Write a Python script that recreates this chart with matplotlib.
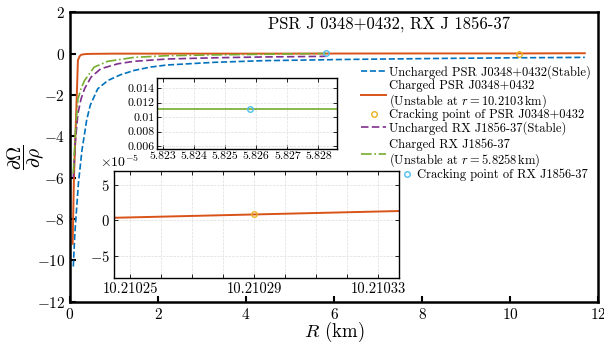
import matplotlib
matplotlib.use('Agg')
import matplotlib.pyplot as plt

plt.rcParams['font.family'] = 'serif'
plt.rcParams['font.serif'] = ['cmr10']
plt.rcParams['mathtext.fontset'] = 'cm'
plt.rcParams['axes.formatter.use_mathtext'] = True
plt.rcParams['axes.unicode_minus'] = True

# colours (MATLAB palette)
c_blue, c_orange, c_yellow = '#0072BD', '#D95319', '#EDB120'
c_purple, c_green, c_cyan = '#7E2F8E', '#77AC30', '#4DBEEE'

# main curves
r_psr_unch = [0.075, 0.11, 0.19, 0.27, 0.38, 0.46, 0.63, 0.86, 1.15, 1.46, 1.83, 2.2, 3.28, 4.4, 6.3, 8.5, 10.2, 11.7]
v_psr_unch = [-10.3, -8.7, -6.3, -4.7, -3.2, -2.5, -1.7, -1.3, -1.02, -0.81, -0.65, -0.55, -0.42, -0.34, -0.28, -0.23, -0.2, -0.18]

r_psr_ch = [0.06, 0.09, 0.15, 0.18, 0.22, 0.26, 0.35, 0.5, 1.0, 2.0, 4.0, 6.0, 8.0, 10.21029, 11.7]
v_psr_ch = [-9.2, -6.0, -2.3, -0.32, -0.12, -0.05, -0.02, -0.01, 0.0, 0.0, 0.0, 0.005, 0.01, 0.01, 0.02]

r_rx_unch = [0.075, 0.12, 0.18, 0.25, 0.33, 0.48, 0.7, 1.09, 1.46, 2.2, 3.3, 4.4, 5.83]
v_rx_unch = [-6.0, -4.3, -2.9, -2.2, -1.7, -1.13, -0.73, -0.49, -0.37, -0.26, -0.2, -0.16, -0.13]

r_rx_ch = [0.075, 0.12, 0.18, 0.25, 0.33, 0.55, 0.86, 1.46, 2.2, 3.3, 4.4, 5.8258]
v_rx_ch = [-5.8, -3.9, -2.2, -1.7, -1.3, -0.65, -0.37, -0.18, -0.1, -0.06, -0.03, 0.011]

# cracking points
crack_psr = (10.21029, 0.008e-3)
crack_rx = (5.8258, 0.0111)

# inset 1 (RX J1856-37 zoom)
in1_r = [5.8228, 5.8286]
in1_v = [0.0111, 0.0111]
in1_xticks = [5.823, 5.824, 5.825, 5.826, 5.827, 5.828]
in1_xlabels = ['5.823', '5.824', '5.825', '5.826', '5.827', '5.828']
in1_yticks = [0.006, 0.008, 0.010, 0.012, 0.014]
in1_ylabels = ['0.006', '0.008', '0.01', '0.012', '0.014']

# inset 2 (PSR J0348+0432 zoom)
in2_r = [10.2102448, 10.2103367]
in2_v = [0.32e-5, 1.27e-5]
in2_crack_v = 0.8e-5
in2_xticks = [10.21025, 10.21026, 10.21027, 10.21028, 10.21029, 10.21030, 10.21031, 10.21032, 10.21033]
in2_xlabels = ['10.21025', '', '', '', '10.21029', '', '', '', '10.21033']
in2_yticks = [-5e-5, 0, 5e-5]

legend_labels = ['Uncharged PSR J0348+0432(Stable)',
                 'Charged PSR J0348+0432\n(Unstable at $r=10.2103\\,$km)',
                 'Cracking point of PSR J0348+0432',
                 'Uncharged RX J1856-37(Stable)',
                 'Charged RX J1856-37\n(Unstable at $r=5.8258\\,$km)',
                 'Cracking point of RX J1856-37']

W, H = 604, 342
fig = plt.figure(figsize=(W / 100, H / 100), dpi=100)
ax = fig.add_axes([70 / W, 40.3 / H, 528 / W, 289.4 / H])

l1, = ax.plot(r_psr_unch, v_psr_unch, '--', color=c_blue, lw=1.2)
l2, = ax.plot(r_psr_ch, v_psr_ch, '-', color=c_orange, lw=1.4)
m1, = ax.plot([crack_psr[0]], [crack_psr[1]], 'o', mfc='none', mec=c_yellow, ms=4, mew=1)
l3, = ax.plot(r_rx_unch, v_rx_unch, color=c_purple, lw=1.2, dashes=(4.5, 2))
l4, = ax.plot(r_rx_ch, v_rx_ch, '-.', color=c_green, lw=1.2)
m2, = ax.plot([crack_rx[0]], [crack_rx[1]], 'o', mfc='none', mec=c_cyan, ms=4, mew=1)

ax.set_xlim(0, 12)
ax.set_ylim(-12, 2)
ax.set_xticks([0, 2, 4, 6, 8, 10, 12])
ax.set_yticks([2, 0, -2, -4, -6, -8, -10, -12])
ax.tick_params(direction='in', length=4, width=1.5, labelsize=11)
for s in ax.spines.values():
    s.set_linewidth(1.8)
ax.set_xlabel(r'$R$ (km)', fontsize=13.5, va='top')
ax.xaxis.set_label_coords(0.5, -0.064)
ax.set_ylabel(r'$\dfrac{\partial\Omega}{\partial\rho}$', fontsize=14, va='bottom')
ax.yaxis.set_label_coords(-0.045, 0.5)
fig.text(389 / W, 1 - 24 / H, 'PSR J 0348+0432, RX J 1856-37', ha='center', va='center', fontsize=12)

# legend entries placed one by one (centre y in pixels)
handles = [l1, l2, m1, l3, l4]
entry_y = [72, 95, 115, 128, 153.5]
for h, lab, yc in zip(handles, legend_labels[:5], entry_y):
    lg = fig.legend([h], [lab], loc='center left', bbox_to_anchor=(361 / W, 1 - yc / H),
                    frameon=False, fontsize=9, borderpad=0, borderaxespad=0,
                    handlelength=2.0, handletextpad=0.25)
    for t in lg.get_texts():
        t.set_linespacing(1.0)
fig.legend([m2], [legend_labels[5]], loc='center left', bbox_to_anchor=(399 / W, 1 - 175 / H),
           frameon=False, fontsize=9, borderpad=0, borderaxespad=0,
           handlelength=1.2, handletextpad=0.25)

# inset 1
ax1 = fig.add_axes([157 / W, 1 - 149 / H, 180 / W, 71 / H])
ax1.plot(in1_r, in1_v, '-', color=c_green, lw=1.2)
ax1.plot([crack_rx[0]], [crack_rx[1]], 'o', mfc='none', mec=c_cyan, ms=4, mew=1)
ax1.set_xlim(in1_r[0], in1_r[1])
ax1.set_ylim(0.00559, 0.01538)
ax1.set_xticks(in1_xticks)
ax1.set_xticklabels(in1_xlabels)
ax1.set_yticks(in1_yticks)
ax1.set_yticklabels(in1_ylabels)
ax1.tick_params(direction='in', length=3, width=0.6, labelsize=8.5, top=True, right=True, pad=2)
ax1.grid(True, ls='--', lw=0.5, color='#dddddd')
for s in ax1.spines.values():
    s.set_linewidth(1.0)

# inset 2
ax2 = fig.add_axes([114 / W, 1 - 278 / H, 285 / W, 107 / H])
ax2.plot(in2_r, in2_v, '-', color=c_orange, lw=1.4)
ax2.plot([crack_psr[0]], [in2_crack_v], 'o', mfc='none', mec=c_yellow, ms=4, mew=1)
ax2.set_xlim(in2_r[0], in2_r[1])
ax2.set_ylim(-8.15e-5, 6.9e-5)
ax2.set_xticks(in2_xticks)
ax2.set_xticklabels(in2_xlabels)
ax2.set_yticks(in2_yticks)
ax2.tick_params(direction='in', length=3, width=0.6, labelsize=10.5, top=True, right=True, pad=3)
ax2.yaxis.get_offset_text().set_fontsize(10)
ax2.yaxis.get_offset_text().set_x(-0.05)
ax2.grid(True, ls='--', lw=0.5, color='#dddddd')
for s in ax2.spines.values():
    s.set_linewidth(1.0)

fig.savefig('out.png', dpi=100)
